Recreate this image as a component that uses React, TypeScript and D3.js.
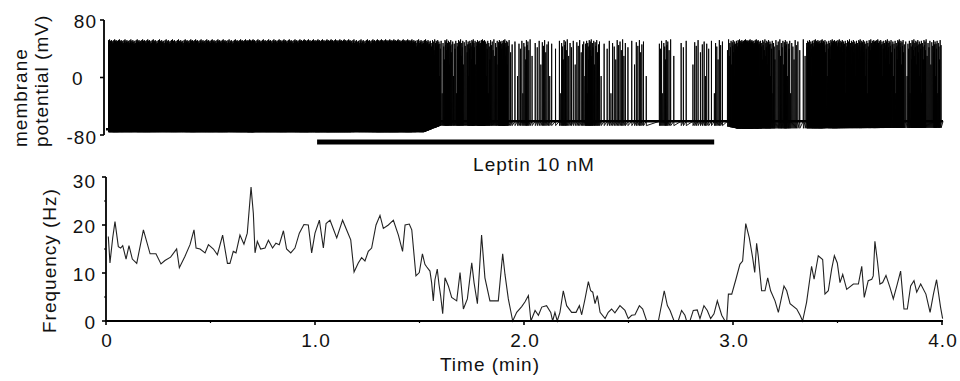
import React from "react";
import * as d3 from "d3";

// Firing rate (Hz); time in minutes
const freqTime = [
  0.011, 0.019, 0.032, 0.043, 0.059, 0.07, 0.08, 0.096, 0.11, 0.126, 0.147, 0.179,
  0.211, 0.239, 0.263, 0.282, 0.309, 0.338, 0.351, 0.378, 0.402, 0.421, 0.431, 0.45,
  0.474, 0.49, 0.514, 0.533, 0.558, 0.581, 0.593, 0.609, 0.622, 0.641, 0.66, 0.676,
  0.694, 0.705, 0.713, 0.724, 0.74, 0.761, 0.777, 0.797, 0.813, 0.829, 0.849, 0.864,
  0.884, 0.904, 0.925, 0.947, 0.968, 0.984, 1.0, 1.021, 1.04, 1.053, 1.072, 1.104,
  1.132, 1.171, 1.187, 1.207, 1.223, 1.239, 1.255, 1.271, 1.292, 1.311, 1.327, 1.351,
  1.375, 1.399, 1.419, 1.431, 1.451, 1.463, 1.483, 1.499, 1.514, 1.526, 1.534, 1.55,
  1.558, 1.566, 1.574, 1.585, 1.593, 1.601, 1.611, 1.622, 1.638, 1.654, 1.678, 1.694,
  1.71, 1.729, 1.75, 1.761, 1.777, 1.797, 1.813, 1.837, 1.877, 1.898, 1.909, 1.925,
  1.946, 1.965, 1.989, 2.005, 2.021, 2.033, 2.053, 2.069, 2.085, 2.108, 2.128, 2.137,
  2.148, 2.159, 2.172, 2.188, 2.204, 2.228, 2.249, 2.265, 2.276, 2.292, 2.308, 2.319,
  2.329, 2.34, 2.351, 2.364, 2.388, 2.403, 2.419, 2.435, 2.459, 2.483, 2.499, 2.515,
  2.531, 2.552, 2.568, 2.587, 2.643, 2.671, 2.686, 2.699, 2.718, 2.738, 2.754, 2.77,
  2.778, 2.794, 2.81, 2.829, 2.842, 2.861, 2.877, 2.893, 2.909, 2.925, 2.946, 2.962,
  2.97, 2.978, 2.994, 3.014, 3.033, 3.046, 3.061, 3.078, 3.094, 3.104, 3.113, 3.121,
  3.137, 3.153, 3.166, 3.18, 3.201, 3.217, 3.244, 3.257, 3.273, 3.305, 3.321, 3.333,
  3.352, 3.376, 3.388, 3.408, 3.429, 3.44, 3.456, 3.472, 3.485, 3.499, 3.512, 3.525,
  3.544, 3.576, 3.6, 3.616, 3.628, 3.647, 3.664, 3.671, 3.679, 3.691, 3.703, 3.716,
  3.732, 3.751, 3.767, 3.786, 3.802, 3.818, 3.834, 3.85, 3.866, 3.879, 3.898, 3.923,
  3.943, 3.959, 3.974, 3.993, 4.003,
];
const freqHz = [
  17.6, 12.1, 17.3, 20.7, 15.5, 15.2, 15.7, 12.9, 15.7, 12.9, 12.0, 19.0,
  14.0, 14.0, 11.9, 12.6, 13.3, 15.0, 11.1, 13.5, 15.9, 19.0, 15.2, 15.0,
  14.2, 15.9, 15.0, 13.8, 17.9, 12.0, 12.0, 14.5, 14.2, 17.9, 16.0, 18.3,
  27.9, 22.4, 14.2, 16.6, 15.0, 15.2, 16.8, 15.2, 16.2, 15.9, 18.8, 15.0,
  14.2, 15.2, 18.3, 20.1, 20.0, 14.2, 18.3, 21.0, 15.2, 20.3, 21.0, 17.3,
  21.0, 16.9, 10.2, 12.1, 13.2, 12.5, 14.5, 15.2, 20.0, 22.0, 19.3, 20.0,
  21.0, 17.9, 14.5, 20.0, 20.2, 19.0, 9.4, 10.1, 14.0, 11.8, 11.3, 10.4,
  8.0, 4.2, 8.6, 10.8, 7.7, 5.3, 1.5, 9.0, 7.3, 4.9, 4.2, 10.1,
  2.5, 4.6, 12.1, 8.0, 3.6, 17.9, 9.0, 4.2, 4.2, 14.0, 9.7, 4.6,
  0.0, 1.8, 3.0, 4.0, 5.3, 0.0, 2.2, 1.2, 2.9, 3.2, 1.8, 0.0,
  1.8, 0.0, 1.8, 6.3, 3.2, 1.8, 1.8, 3.2, 1.3, 4.6, 8.2, 6.3,
  6.0, 3.6, 5.3, 1.8, 0.5, 1.8, 2.5, 1.7, 3.2, 2.2, 0.5, 1.2,
  1.3, 3.2, 2.5, 0.0, 0.0, 6.3, 3.2, 2.2, 0.0, 0.0, 2.2, 1.2,
  0.0, 0.0, 2.2, 2.3, 0.5, 3.2, 2.2, 0.5, 1.5, 4.2, 1.2, 0.0,
  0.0, 5.6, 5.6, 8.7, 11.8, 12.5, 20.3, 17.3, 13.2, 10.1, 16.2, 13.5,
  6.3, 6.3, 9.0, 6.3, 4.2, 1.8, 7.3, 6.3, 3.6, 2.5, 1.2, 0.0,
  3.9, 11.4, 8.7, 13.6, 12.8, 5.6, 6.3, 10.8, 13.6, 12.1, 8.0, 9.7,
  6.6, 7.7, 7.7, 11.4, 4.9, 8.4, 8.7, 9.4, 16.6, 12.5, 7.7, 8.0,
  9.5, 7.0, 4.6, 7.7, 10.4, 2.5, 2.5, 7.3, 8.4, 6.0, 7.7, 5.6,
  1.8, 5.6, 8.6, 2.9, 0.5,
];

// Leptin application (min)
const leptinStart = 1.01;
const leptinEnd = 2.91;

// Upper trace envelope (mV): resting level, after-hyperpolarisation, spike peaks
const restTime = [0, 1.52, 1.6, 4.0];
const restLevel = [-72, -72, -61, -61];
const ahpTime = [0, 1.52, 1.6, 2.95, 3.02, 4.0];
const ahpLevel = [-76, -76, -67, -67, -71, -70];
const spikePeaks = [
  52, 45, 50, 38, 53, 30, 48, 42, 51, 18, 49, 44, 52, 35, 46, 50, 2, 47, 40, 51, -22, 48, 43, 25,
];

const vTicks = [80, 0, -80];
const freqTicks = [0, 10, 20, 30];
const freqMinor = [5, 15, 25];
const timeTicks = [0, 1, 2, 3, 4];
const timeMinor = [0.5, 1.5, 2.5, 3.5];
const timeTickLabels = ["0", "1.0", "2.0", "3.0", "4.0"];

const font = "'Liberation Sans', Arial, sans-serif";

export default function App() {
  const width = 960;
  const height = 381;

  const xScale = d3.scaleLinear().domain([0, 4]).range([106, 942]);
  const vScale = d3.scaleLinear().domain([-80, 80]).range([135, 20]);
  const fScale = d3.scaleLinear().domain([0, 30]).range([321, 177]);

  const restAt = d3.scaleLinear().domain(restTime).range(restLevel);
  const ahpAt = d3.scaleLinear().domain(ahpTime).range(ahpLevel);

  // spike times follow the measured firing rate
  const spikeTimes: number[] = [];
  let acc = 0;
  for (let i = 0; i < freqTime.length - 1; i++) {
    const t0 = freqTime[i];
    const t1 = freqTime[i + 1];
    const n = ((freqHz[i] + freqHz[i + 1]) / 2) * (t1 - t0) * 60;
    const start = acc;
    acc += n;
    for (let k = Math.floor(start) + 1; k < acc; k++) {
      spikeTimes.push(t0 + ((k - start) / n) * (t1 - t0));
    }
  }

  const tracePts: [number, number][] = [[0, restAt(0)]];
  spikeTimes.forEach((ts, j) => {
    tracePts.push([ts, restAt(ts)]);
    tracePts.push([ts + 0.0004, spikePeaks[j % spikePeaks.length]]);
    tracePts.push([ts + 0.0008, ahpAt(ts)]);
  });
  tracePts.push([4.005, restAt(4)]);

  const vLine = d3
    .line<[number, number]>()
    .x((d) => xScale(d[0]))
    .y((d) => vScale(d[1]));

  const restPath = vLine(restTime.map((t, i) => [t === 4 ? 4.005 : t, restLevel[i]]) as [number, number][]);

  const fLine = d3
    .line<number>()
    .x((d) => xScale(d))
    .y((_, i) => fScale(freqHz[i]));

  const textStyle = { fontFamily: font, fontSize: 19, letterSpacing: 1, fill: "#111" };

  return (
    <div style={{ position: "absolute", left: 0, top: 0 }}>
      <svg width={width} height={height} style={{ display: "block", background: "#fff" }}>
        {/* Upper panel: membrane potential */}
        <path d={restPath || ""} fill="none" stroke="#000" strokeWidth={2.5} />
        <path d={vLine(tracePts) || ""} fill="none" stroke="#000" strokeWidth={0.9} />

        <line x1={104} x2={104} y1={vScale(80)} y2={vScale(-80)} stroke="#000" strokeWidth={1.8} />
        {vTicks.map((t) => (
          <g key={`v-${t}`}>
            <line x1={100} x2={104} y1={vScale(t)} y2={vScale(t)} stroke="#000" strokeWidth={1.6} />
            <text
              x={t === 0 ? 72 : 97}
              y={vScale(t) + (t === -80 ? 2 : 1)}
              dy="0.35em"
              textAnchor={t === 0 ? "start" : "end"}
              style={textStyle}
            >
              {t}
            </text>
          </g>
        ))}
        <text transform="translate(27,147) rotate(-90)" style={textStyle}>
          membrane
        </text>
        <text transform="translate(48,147) rotate(-90)" style={textStyle}>
          potential (mV)
        </text>

        {/* Leptin bar */}
        <rect
          x={xScale(leptinStart)}
          y={139.5}
          width={xScale(leptinEnd) - xScale(leptinStart)}
          height={5}
          fill="#000"
        />
        <text x={534} y={170.5} textAnchor="middle" style={textStyle}>
          Leptin 10 nM
        </text>

        {/* Lower panel: frequency */}
        <path d={fLine(freqTime) || ""} fill="none" stroke="#222" strokeWidth={1.1} />

        <line x1={106} x2={106} y1={fScale(30)} y2={fScale(0)} stroke="#000" strokeWidth={1.8} />
        {freqTicks.map((t) => (
          <g key={`f-${t}`}>
            <line x1={102} x2={106} y1={fScale(t)} y2={fScale(t)} stroke="#000" strokeWidth={1.6} />
            <text x={96} y={fScale(t) + (t === 30 ? 4 : 1)} dy="0.35em" textAnchor="end" style={textStyle}>
              {t}
            </text>
          </g>
        ))}
        {freqMinor.map((t) => (
          <line key={`fm-${t}`} x1={104} x2={106} y1={fScale(t)} y2={fScale(t)} stroke="#000" strokeWidth={1.2} />
        ))}
        <text transform="translate(56,333) rotate(-90)" style={textStyle}>
          Frequency (Hz)
        </text>

        <line x1={105} x2={943} y1={fScale(0)} y2={fScale(0)} stroke="#000" strokeWidth={1.8} />
        {timeTicks.map((t, i) => (
          <g key={`t-${t}`}>
            <line x1={xScale(t)} x2={xScale(t)} y1={fScale(0)} y2={fScale(0) + 4} stroke="#000" strokeWidth={1.6} />
            <text x={xScale(t) + 1} y={347} textAnchor="middle" style={textStyle}>
              {timeTickLabels[i]}
            </text>
          </g>
        ))}
        {timeMinor.map((t) => (
          <line key={`tm-${t}`} x1={xScale(t)} x2={xScale(t)} y1={fScale(0)} y2={fScale(0) + 2} stroke="#000" strokeWidth={1.2} />
        ))}
        <text x={490} y={371} textAnchor="middle" style={textStyle}>
          Time (min)
        </text>
      </svg>
    </div>
  );
}
